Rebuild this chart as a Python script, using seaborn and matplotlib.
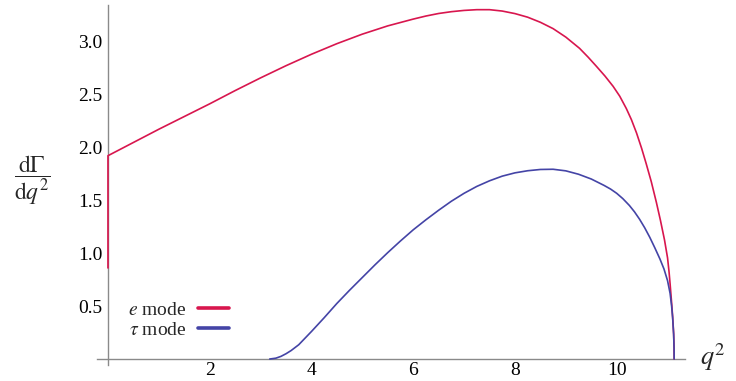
import numpy as np
import pandas as pd
import matplotlib
matplotlib.use("Agg")
import matplotlib.pyplot as plt
from matplotlib.ticker import FixedLocator, MultipleLocator
import seaborn as sns

# ---- data ----
q_e = [0.0, 0.0, 0.5, 1.0, 1.5, 2.0, 2.5, 3.0, 3.5, 4.0, 4.5, 5.0, 5.5, 6.0,
       6.25, 6.5, 6.75, 7.0, 7.25, 7.5, 7.75, 8.0, 8.25, 8.5, 8.75, 9.0, 9.27,
       9.44, 9.60, 9.77, 9.93, 10.06, 10.19, 10.29, 10.39, 10.49, 10.58, 10.68,
       10.78, 10.86, 10.94, 11.0, 11.03, 11.05, 11.08, 11.1, 11.12, 11.128,
       11.13]
dG_e = [0.86, 1.92, 2.045, 2.17, 2.29, 2.41, 2.535, 2.655, 2.77, 2.878, 2.978,
        3.068, 3.146, 3.21, 3.239, 3.263, 3.28, 3.292, 3.299, 3.299, 3.286,
        3.262, 3.228, 3.18, 3.12, 3.04, 2.934, 2.85, 2.765, 2.672, 2.575,
        2.482, 2.365, 2.26, 2.135, 1.99, 1.845, 1.675, 1.48, 1.31, 1.125,
        0.955, 0.82, 0.71, 0.53, 0.40, 0.24, 0.11, 0.0]

q_tau = [3.18, 3.3, 3.4, 3.5, 3.6, 3.75, 4.0, 4.25, 4.5, 4.75, 5.0, 5.25, 5.5,
         5.75, 6.0, 6.25, 6.5, 6.75, 7.0, 7.25, 7.5, 7.75, 8.0, 8.25, 8.5,
         8.75, 9.0, 9.25, 9.5, 9.75, 9.88, 10.0, 10.12, 10.25, 10.35, 10.45,
         10.55, 10.65, 10.75, 10.85, 10.93, 11.0, 11.05, 11.08, 11.1, 11.12,
         11.128, 11.13]
dG_tau = [0.0, 0.008, 0.025, 0.05, 0.08, 0.135, 0.26, 0.39, 0.525, 0.65, 0.77,
          0.89, 1.005, 1.115, 1.22, 1.315, 1.405, 1.49, 1.565, 1.63, 1.683,
          1.727, 1.758, 1.778, 1.79, 1.792, 1.777, 1.745, 1.70, 1.64, 1.605,
          1.565, 1.515, 1.45, 1.39, 1.32, 1.24, 1.15, 1.05, 0.945, 0.85, 0.74,
          0.62, 0.50, 0.39, 0.23, 0.10, 0.0]

series_labels = [r"$e$ mode", r"$\tau$ mode"]
x_major = [2, 4, 6, 8, 10]
y_major = [0.5, 1.0, 1.5, 2.0, 2.5, 3.0]

red = "#D8164E"
blue = "#4444A6"

sns.set_style("white")
plt.rcParams["font.family"] = ["Liberation Serif", "DejaVu Serif"]
plt.rcParams["mathtext.fontset"] = "stix"

fig = plt.figure(figsize=(7.36, 3.81), dpi=100)
ax = fig.add_axes([0.1315, 0.041, 0.799, 0.945])

df_e = pd.DataFrame({"q2": q_e, "dG": dG_e})
df_t = pd.DataFrame({"q2": q_tau, "dG": dG_tau})
sns.lineplot(data=df_e, x="q2", y="dG", estimator=None, sort=False,
             color=red, lw=1.2, ax=ax, label=series_labels[0], zorder=3)
sns.lineplot(data=df_t, x="q2", y="dG", estimator=None, sort=False,
             color=blue, lw=1.2, ax=ax, label=series_labels[1], zorder=3)

ax.set_xlim(-0.22, 11.34)
ax.set_ylim(-0.06, 3.34)

for s in ["top", "right"]:
    ax.spines[s].set_visible(False)
ax.spines["left"].set_position(("data", 0))
ax.spines["bottom"].set_position(("data", 0))
for s in ["left", "bottom"]:
    ax.spines[s].set_color("#8a8a8a")
    ax.spines[s].set_linewidth(1.0)

ax.xaxis.set_major_locator(FixedLocator(x_major))
ax.xaxis.set_minor_locator(MultipleLocator(0.5))
ax.yaxis.set_major_locator(FixedLocator(y_major))
ax.yaxis.set_minor_locator(MultipleLocator(0.1))
ax.set_xticklabels([str(v) for v in x_major])
ax.set_yticklabels([f"{v:.1f}" for v in y_major])
ax.tick_params(which="both", direction="in", color="#8a8a8a", width=0.9,
               labelsize=14, labelcolor="black")
ax.tick_params(which="major", length=6)
ax.tick_params(which="minor", length=3)
ax.tick_params(axis="x", which="both", pad=2)
ax.tick_params(axis="y", which="both", pad=4)

ax.set_xlabel("")
ax.set_ylabel(r"$\dfrac{\mathrm{d}\Gamma}{\mathrm{d}q^2}$", rotation=0, fontsize=17)
ax.yaxis.set_label_coords(-0.110, 0.515)
ax.yaxis.label.set_ha("center")
ax.yaxis.label.set_va("center")
ax.text(1.048, 0.023, r"$q^2$", transform=ax.transAxes, fontsize=19,
        ha="center", va="center")

leg = ax.legend(loc="center left", bbox_to_anchor=(0.053, 0.125),
                frameon=False, markerfirst=False, fontsize=14,
                handlelength=1.6, handletextpad=0.6, labelspacing=0.12,
                borderpad=0, borderaxespad=0)
for ln in leg.get_lines():
    ln.set_linewidth(2.6)

fig.savefig("out.png", dpi=100)
